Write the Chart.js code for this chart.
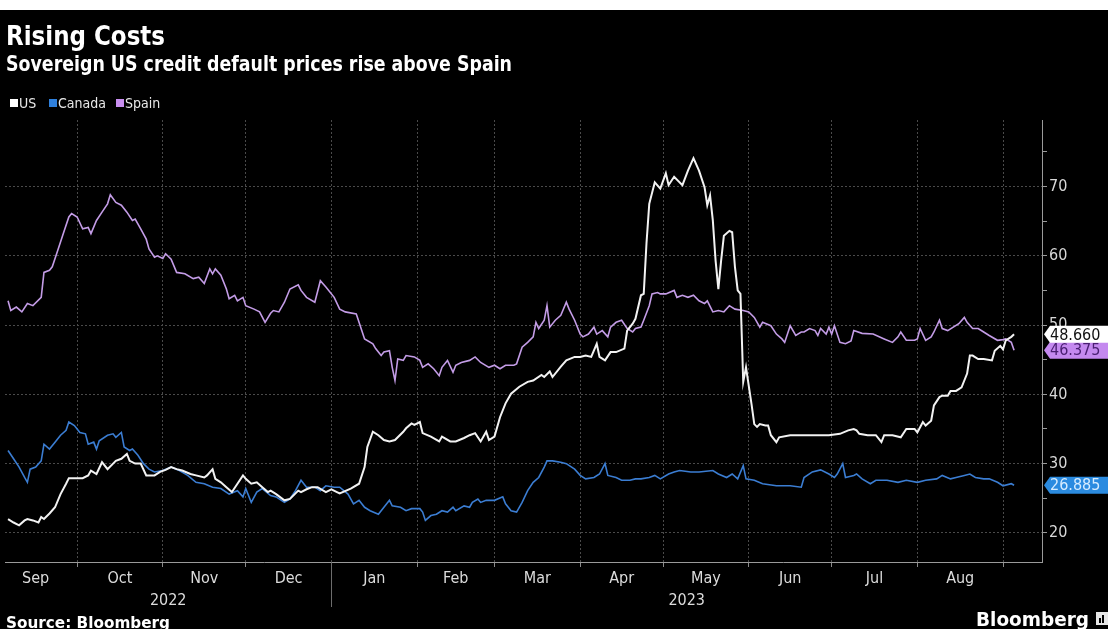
<!DOCTYPE html>
<html>
<head>
<meta charset="utf-8">
<title>Rising Costs</title>
<style>
  html, body { margin: 0; padding: 0; background: #000; }
  #wrap { width: 1108px; height: 629px; position: relative; overflow: hidden; }
  canvas { display: block; }
</style>
<script src="https://cdn.jsdelivr.net/npm/chart.js@4.4.1/dist/chart.umd.min.js"></script>
</head>
<body>
<div id="wrap"><canvas id="chart" width="1108" height="629"></canvas></div>
<script>
// Sovereign 5y CDS prices. x = days since 1 Sep 2022.
const usDay = [5,7,9,11,12,14,16,17,18,20,22,24,26,27,29,32,34,35,37,39,41,43,44,46,48,49,51,53,55,58,60,62,64,66,68,71,73,76,77,79,80,82,84,86,88,90,91,93,95,97,99,100,102,105,107,110,111,113,115,117,120,122,124,125,129,132,134,135,137,139,141,143,145,148,149,151,152,154,155,158,161,162,165,167,170,172,174,176,178,179,181,183,185,187,190,193,195,198,199,201,202,205,207,210,212,214,216,218,219,221,223,225,228,229,231,232,234,235,236,237,239,241,243,244,246,249,251,253,255,257,258,259,260,261,262,263,264,266,267,268,269,270,271,272,274,275,276,277,279,280,281,283,284,288,293,298,302,306,309,311,312,313,316,319,321,322,325,328,330,333,334,336,337,339,340,342,343,345,346,348,350,352,353,354,356,358,361,362,364,365,366,368,369];
const usValue = [22.0,21.5,21.1,21.8,22.0,21.8,21.5,22.3,22.0,22.8,23.7,25.6,27.1,27.9,27.9,27.9,28.3,29.0,28.5,30.2,29.2,30.0,30.4,30.7,31.4,30.4,30.0,30.0,28.3,28.3,28.8,29.1,29.5,29.2,29.0,28.5,28.3,28.0,28.3,29.2,27.8,27.3,26.6,25.9,27.1,28.3,27.8,27.1,27.3,26.6,25.9,26.1,25.6,24.7,24.9,26.1,25.9,26.3,26.6,26.6,25.9,26.3,25.9,25.7,26.4,27.1,29.5,32.4,34.6,34.1,33.4,33.2,33.4,34.6,35.1,35.8,35.6,36.0,34.4,33.9,33.2,33.9,33.2,33.2,33.7,34.1,34.4,33.2,34.6,33.4,33.9,36.7,38.7,40.1,41.1,41.8,42.0,42.8,42.5,43.3,42.5,44.0,44.9,45.4,45.4,45.6,45.4,47.3,45.4,44.9,46.1,46.1,46.6,49.2,50.2,50.9,54.3,54.5,61.8,67.5,70.6,69.7,71.9,70.2,71.4,70.2,72.3,74.1,72.3,69.9,67.3,68.7,65.1,59.3,55.2,59.3,62.9,63.6,63.4,58.4,55.0,54.5,41.8,43.9,38.6,35.7,35.3,35.7,35.5,35.5,34.1,33.1,33.8,34.1,34.1,34.1,34.1,34.3,34.8,35.0,34.8,34.3,34.1,34.1,33.1,34.1,34.1,33.8,35.0,35.0,34.5,36.0,35.5,36.2,38.4,39.6,39.8,39.8,40.5,40.5,41.0,43.0,45.6,45.6,45.1,45.1,44.9,46.3,47.0,46.5,47.8,48.3,48.66];

const canadaDay = [5,7,9,11,12,13,15,17,18,20,22,24,26,27,29,31,33,34,36,37,38,41,43,44,46,47,49,50,52,54,56,58,61,64,67,70,73,76,79,82,85,88,90,91,93,95,97,100,102,105,107,109,111,113,116,118,120,123,125,128,130,132,134,136,139,141,143,144,147,149,151,154,155,156,158,160,162,164,166,167,170,172,173,175,176,178,181,184,185,187,189,191,193,195,197,199,200,202,205,207,210,212,214,217,219,221,222,225,227,230,232,234,237,239,241,244,246,248,252,255,260,262,265,267,269,271,272,275,278,283,288,292,293,296,299,302,304,305,307,308,311,312,314,317,319,323,327,330,334,337,341,343,346,348,351,353,355,358,360,363,365,368,369];
const canadaValue = [31.9,30.7,29.5,28.0,27.3,29.2,29.5,30.4,32.8,32.1,33.1,34.1,34.8,36.0,35.5,34.5,34.3,32.8,33.1,32.1,33.3,34.1,34.3,33.8,34.5,32.4,31.9,32.1,31.2,30.0,29.2,28.8,29.0,29.5,29.0,28.3,27.3,27.1,26.6,26.4,25.6,26.1,25.2,26.4,24.4,25.9,26.4,25.4,25.2,24.4,24.9,26.1,27.6,26.6,26.6,26.1,26.8,26.6,26.6,25.6,24.2,24.7,23.7,23.2,22.7,23.7,24.7,23.9,23.7,23.2,23.5,23.5,23.0,21.8,22.5,22.7,23.2,23.0,23.7,23.2,23.9,23.7,24.4,24.9,24.4,24.7,24.7,25.2,24.2,23.2,23.0,24.4,26.1,27.3,28.0,29.5,30.4,30.4,30.2,30.0,29.2,28.3,27.8,28.0,28.5,30.0,28.3,28.0,27.6,27.6,27.8,27.8,28.0,28.3,27.8,28.5,28.8,29.0,28.8,28.8,29.0,28.5,28.0,28.5,27.8,29.7,27.8,27.6,27.1,26.8,26.8,26.6,28.0,28.8,29.1,28.5,28.0,28.5,30.0,28.0,28.3,28.5,27.8,27.1,27.6,27.6,27.3,27.6,27.3,27.6,27.8,28.3,27.8,28.0,28.3,28.5,28.0,27.8,27.8,27.3,26.8,27.1,26.885];

const spainDay = [5,6,8,10,12,14,17,18,20,21,23,25,27,28,30,32,34,35,37,39,41,42,44,46,48,50,51,53,55,56,58,59,61,62,64,66,69,72,74,76,78,79,80,82,84,85,87,88,90,91,94,96,98,100,101,103,105,107,110,111,113,116,118,120,123,125,127,131,134,137,138,140,141,143,144,145,146,148,149,152,154,155,157,159,161,162,164,166,167,169,172,174,176,179,181,183,185,188,189,191,193,195,196,197,199,200,201,203,205,207,208,210,212,213,215,217,218,220,222,223,225,227,229,231,232,234,235,237,238,240,241,243,246,247,249,251,253,255,257,258,260,262,264,266,268,271,273,275,277,278,281,283,285,286,288,290,292,293,295,297,298,299,301,302,303,304,306,308,310,311,314,318,322,325,327,328,330,333,334,335,337,339,340,342,343,345,347,349,351,352,354,356,358,360,363,365,366,368,369];
const spainValue = [53.5,52.1,52.6,51.9,53.1,52.8,54.0,57.6,57.9,58.4,60.8,63.2,65.6,66.1,65.6,63.9,64.1,63.2,65.1,66.3,67.5,68.8,67.7,67.3,66.3,65.1,65.3,63.9,62.4,61.0,59.8,60.0,59.6,60.3,59.5,57.6,57.4,56.7,56.9,56.0,58.1,57.4,58.1,57.2,55.2,53.8,54.3,53.5,54.0,52.8,52.3,51.9,50.4,51.7,52.1,51.9,53.3,55.2,55.8,55.0,54.0,53.3,56.4,55.5,54.0,52.3,51.9,51.6,48.0,47.3,46.6,45.6,46.1,46.3,43.9,42.0,45.1,44.9,45.6,45.4,44.9,43.9,44.4,43.7,42.7,43.9,44.9,43.2,44.2,44.6,44.9,45.4,44.6,43.9,44.2,43.7,44.2,44.2,44.4,46.8,47.5,48.3,50.4,49.5,50.7,52.8,49.7,50.7,51.4,53.3,52.3,50.7,48.7,48.3,48.7,49.7,48.7,49.2,48.3,49.7,50.4,50.7,49.5,49.0,49.5,49.7,50.7,52.8,54.5,54.7,54.5,54.5,55.0,54.0,54.3,54.0,54.3,53.5,53.1,53.5,51.9,52.1,51.9,52.8,52.3,52.1,51.9,51.1,49.7,50.4,49.9,48.7,48.0,47.5,49.9,48.5,49.0,49.0,49.5,49.2,48.5,49.5,48.7,49.7,48.7,49.9,47.5,47.3,47.7,49.2,48.8,48.7,48.0,47.5,48.3,49.0,47.8,47.8,48.0,49.5,47.8,48.3,49.0,50.7,49.5,49.2,49.7,50.2,51.1,50.4,49.5,49.5,49.0,48.5,47.8,47.9,48.0,47.5,46.375];

// Calendar: first day of each month (Sep 2022 .. Sep 2023) in the same day units
const monthStart = [0,30,61,91,122,153,181,212,242,273,303,334,365];
const monthLabel = ['Sep','Oct','Nov','Dec','Jan','Feb','Mar','Apr','May','Jun','Jul','Aug'];
const yearLabel = ['2022','2023'];
const yearBreak = 122;            // 1 Jan 2023
const yTick = [20,25,30,35,40,45,50,55,60,65,70,75];

const X_MIN = 3.9, X_MAX = 379.1;
const Y_MIN = 15.8, Y_MAX = 79.6;

const COND = '"DejaVu Sans Condensed", "DejaVu Sans", sans-serif';
const BOLD = '"DejaVu Sans Condensed", "DejaVu Sans", sans-serif';

const SERIES = [
  { label: 'US',     day: usDay,     value: usValue,     line: '#f2f2f2', swatch: '#ffffff', tagFill: '#ffffff', tagText: '#111111', width: 2, legendX: 10 },
  { label: 'Canada', day: canadaDay, value: canadaValue, line: '#3b7dd2', swatch: '#2f80dc', tagFill: '#2b8be0', tagText: '#d6ecff', width: 1.6, legendX: 49 },
  { label: 'Spain',  day: spainDay,  value: spainValue,  line: '#c39ce6', swatch: '#c98ff0', tagFill: '#c489ef', tagText: '#4a1f72', width: 1.6, legendX: 116 }
];

const monthMid = monthLabel.map((m, i) => (monthStart[i] + monthStart[i + 1]) / 2);

// Text squeezed horizontally to a given width (narrow headline face)
function fittedText(ctx, text, x, y, font, width) {
  ctx.save();
  ctx.font = font;
  const w = ctx.measureText(text).width;
  const sx = width ? width / w : 1;
  ctx.translate(x, y);
  ctx.scale(sx, 1);
  ctx.fillText(text, 0, 0);
  ctx.restore();
}

// Value tag on the right axis: a box with a point facing the plot
function valueTag(ctx, xTip, yc, fill, color, text) {
  const h = 17, w = 80, nose = 6;
  ctx.save();
  ctx.beginPath();
  ctx.moveTo(xTip, yc);
  ctx.lineTo(xTip + nose, yc - h / 2);
  ctx.lineTo(xTip + w, yc - h / 2);
  ctx.lineTo(xTip + w, yc + h / 2);
  ctx.lineTo(xTip + nose, yc + h / 2);
  ctx.closePath();
  ctx.fillStyle = fill;
  ctx.fill();
  ctx.fillStyle = color;
  ctx.font = '16px ' + COND;
  ctx.textBaseline = 'middle';
  ctx.textAlign = 'left';
  ctx.fillText(text, xTip + 6, yc + 1);
  ctx.restore();
}

const frame = {
  id: 'frame',
  beforeDraw(chart) {
    const ctx = chart.ctx;
    ctx.save();
    ctx.fillStyle = '#000';
    ctx.fillRect(0, 0, chart.width, chart.height);
    ctx.fillStyle = '#ffffff';
    ctx.fillRect(0, 0, chart.width, 10);
    ctx.restore();
  },
  afterDraw(chart) {
    const ctx = chart.ctx;
    const xs = chart.scales.x;
    const ys = chart.scales.y;
    const area = chart.chartArea;
    ctx.save();

    // headline and subtitle
    ctx.fillStyle = '#ffffff';
    ctx.textBaseline = 'alphabetic';
    ctx.textAlign = 'left';
    fittedText(ctx, 'Rising Costs', 6, 45, 'bold 27px ' + BOLD, 159);
    fittedText(ctx, 'Sovereign US credit default prices rise above Spain', 6, 71, 'bold 21px ' + BOLD, 506);

    // legend
    ctx.font = '14px ' + COND;
    SERIES.forEach(s => {
      ctx.fillStyle = s.swatch;
      ctx.fillRect(s.legendX, 99, 8, 8);
      ctx.fillStyle = '#e8e8e8';
      ctx.fillText(s.label, s.legendX + 9, 108);
    });

    // year captions under the month labels
    const xBreak = Math.round(xs.getPixelForValue(yearBreak)) + 0.5;
    ctx.strokeStyle = '#6d6d6d';
    ctx.lineWidth = 1;
    ctx.beginPath();
    ctx.moveTo(xBreak, area.bottom);
    ctx.lineTo(xBreak, 607);
    ctx.stroke();
    ctx.fillStyle = '#dcdcdc';
    ctx.font = '16px ' + COND;
    ctx.textAlign = 'center';
    ctx.textBaseline = 'alphabetic';
    const c2022 = (xs.getPixelForValue(xs.min) + xs.getPixelForValue(yearBreak)) / 2;
    const c2023 = (xs.getPixelForValue(yearBreak) + xs.getPixelForValue(xs.max)) / 2;
    ctx.fillText(yearLabel[0], c2022, 605);
    ctx.fillText(yearLabel[1], c2023, 605);

    // footer
    ctx.textAlign = 'left';
    ctx.fillStyle = '#ffffff';
    fittedText(ctx, 'Source: Bloomberg', 6, 628, 'bold 15px ' + BOLD, 164);
    fittedText(ctx, 'Bloomberg', 976, 626, 'bold 19px ' + BOLD, 113);
    ctx.fillStyle = '#e6e6e6';
    ctx.fillRect(1096, 612, 12, 13);
    ctx.fillStyle = '#000';
    ctx.fillRect(1099, 618, 2, 5);
    ctx.fillRect(1102, 615, 2, 8);

    // last-value tags on the right axis
    const tipX = area.right + 2;
    const order = [2, 0, 1];
    order.forEach(i => {
      const s = SERIES[i];
      const last = s.value[s.value.length - 1];
      valueTag(ctx, tipX, ys.getPixelForValue(last), s.tagFill, s.tagText, last.toFixed(3));
    });
    ctx.restore();
  }
};

Chart.defaults.font.family = COND;

new Chart(document.getElementById('chart'), {
  type: 'line',
  data: {
    datasets: SERIES.map(s => ({
      label: s.label,
      data: s.day.map((d, i) => ({ x: d, y: s.value[i] })),
      borderColor: s.line,
      borderWidth: s.width,
      pointRadius: 0,
      tension: 0,
      fill: false
    }))
  },
  options: {
    responsive: false,
    animation: false,
    devicePixelRatio: 1,
    layout: { padding: { left: 5, top: 120, right: 0, bottom: 0 } },
    plugins: { legend: { display: false }, tooltip: { enabled: false }, title: { display: false } },
    scales: {
      x: {
        type: 'linear',
        position: 'bottom',
        min: X_MIN,
        max: X_MAX,
        afterBuildTicks: s => { s.ticks = monthStart.filter(v => v >= s.min && v <= s.max).map(v => ({ value: v })); },
        afterFit: s => { s.height = 6; },
        ticks: { display: false },
        grid: { color: '#4a4a4a', lineWidth: 1, drawTicks: true, tickLength: 5, tickColor: '#8a8a8a' },
        border: { display: true, color: '#9a9a9a', width: 1, dash: [2, 2] }
      },
      x2: {
        type: 'linear',
        position: 'bottom',
        min: X_MIN,
        max: X_MAX,
        afterBuildTicks: s => { s.ticks = monthMid.map(v => ({ value: v })); },
        afterFit: s => { s.height = 61; },
        grid: { display: false, drawTicks: false },
        border: { display: false },
        ticks: {
          autoSkip: false, maxRotation: 0, padding: 1,
          color: '#dcdcdc', font: { family: COND, size: 16 },
          callback: (v, i) => monthLabel[i]
        }
      },
      y: {
        type: 'linear',
        position: 'right',
        min: Y_MIN,
        max: Y_MAX,
        afterBuildTicks: s => { s.ticks = yTick.map(v => ({ value: v })); },
        afterFit: s => { s.width = 66; },
        ticks: {
          color: '#d8d8d8', padding: 2, font: { family: COND, size: 16 },
          callback: v => (v % 10 === 0 ? String(v) : '')
        },
        grid: {
          color: c => (c.tick && c.tick.value % 10 === 0 ? '#4a4a4a' : 'rgba(0,0,0,0)'),
          tickColor: '#9a9a9a', tickLength: 5, drawTicks: true
        },
        border: { display: true, color: '#9a9a9a', width: 1, dash: [2, 2] }
      }
    }
  },
  plugins: [frame]
});
</script>
</body>
</html>
